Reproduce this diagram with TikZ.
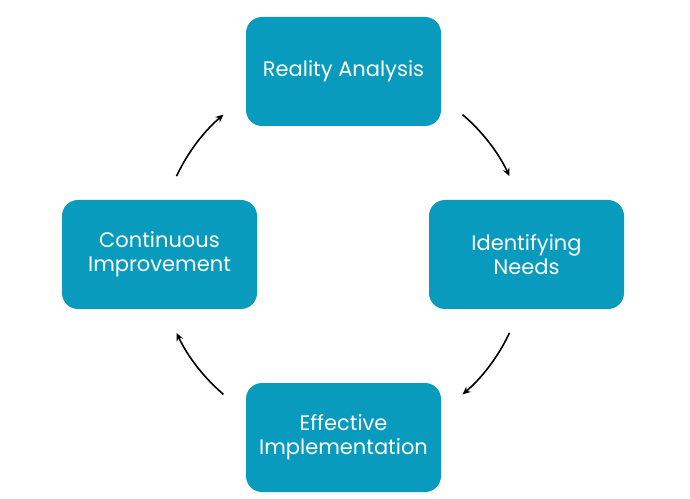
\documentclass[tikz,border=0pt]{standalone}
\usepackage{fontspec}
\setmainfont{Poppins}
\usetikzlibrary{arrows.meta,calc}
\definecolor{boxteal}{RGB}{8,155,189}
\begin{document}
\begin{tikzpicture}[x=1pt,y=1pt,
  stagebox/.style={draw=none,fill=boxteal,rounded corners=16pt,minimum width=195pt,minimum height=109pt,inner sep=0pt,text=white,align=center,font=\fontsize{21}{24}\selectfont},
  cyclearrow/.style={line width=1.6pt,-{Stealth[length=8pt,width=7pt]}}]
\useasboundingbox (0,0) rectangle (690,498);
\node[stagebox] (reality) at (343.5,426.5) {Reality Analysis};
\node[stagebox] (needs) at (526.5,243.5) {Identifying\\Needs};
\node[stagebox] (impl) at (343.5,60.5) {Effective\\Implementation};
\node[stagebox] (improve) at (159.5,243.5) {Continuous\\Improvement};
\coordinate (c) at (343,243.5);
\coordinate (a1) at ($(c)+(49.5:184)$);
\coordinate (a2) at ($(c)+(-25.2:184)$);
\coordinate (a3) at ($(c)+(229.5:184)$);
\coordinate (a4) at ($(c)+(154.8:184)$);
\draw[cyclearrow] (a1) arc[start angle=49.5,end angle=25.2,radius=184];
\draw[cyclearrow] (a2) arc[start angle=-25.2,end angle=-49.5,radius=184];
\draw[cyclearrow] (a3) arc[start angle=229.5,end angle=205.2,radius=184];
\draw[cyclearrow] (a4) arc[start angle=154.8,end angle=130.5,radius=184];
\end{tikzpicture}
\end{document}
